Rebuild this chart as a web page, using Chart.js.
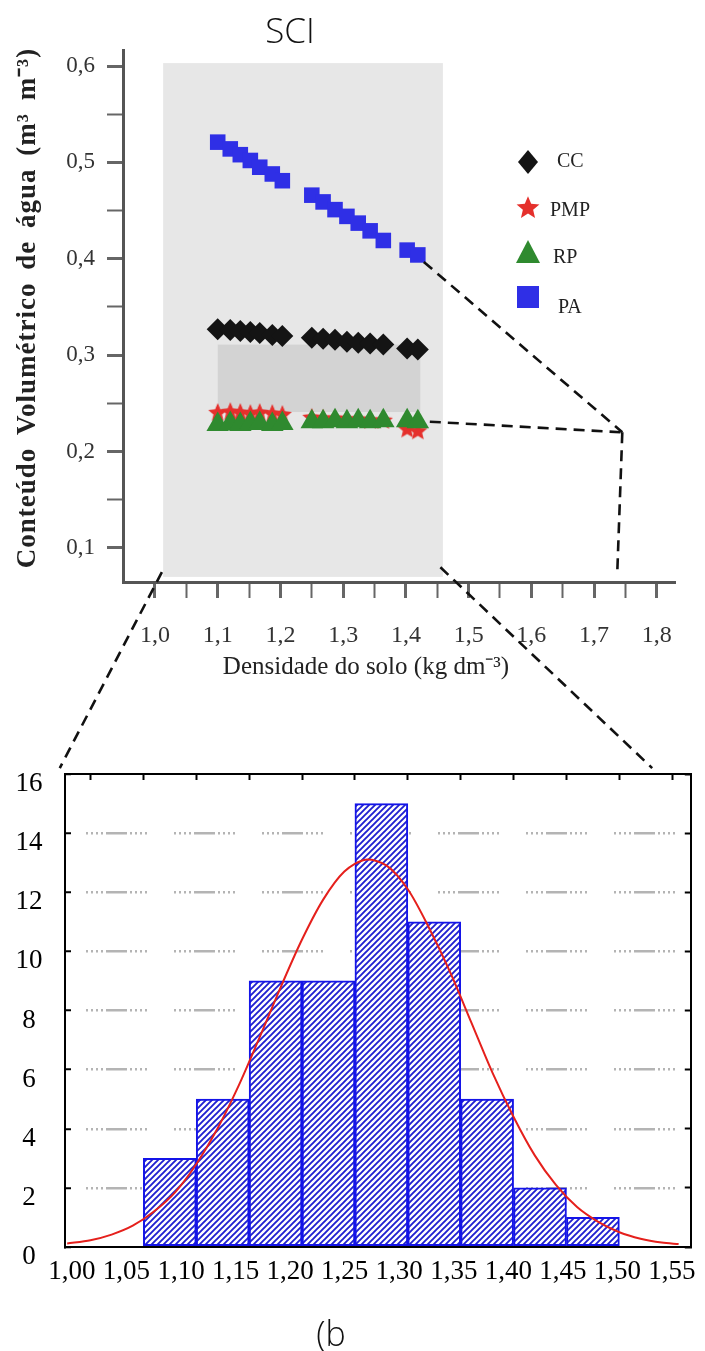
<!DOCTYPE html>
<html><head><meta charset="utf-8">
<script src="https://cdn.jsdelivr.net/npm/chart.js@4.4.0/dist/chart.umd.min.js"></script>
<style>
html,body{margin:0;padding:0;background:#fff;}
body{width:705px;height:1351px;position:relative;overflow:hidden;}
canvas{position:absolute;left:0;}
#c1{top:0;z-index:1;}
#c2{top:700px;z-index:1;}
#ov{top:0;z-index:2;pointer-events:none;}
.t{position:absolute;font-family:"Open Sans",sans-serif;font-weight:300;color:#111;text-align:center;z-index:3;}
</style></head><body>
<div class="t" style="left:0;width:580px;top:8px;font-size:35px;line-height:44px;">SCI</div>
<canvas id="c1" width="705" height="700"></canvas>
<canvas id="c2" width="705" height="620"></canvas>
<canvas id="ov" width="705" height="1351"></canvas>
<div class="t" style="left:231px;width:200px;top:1311px;font-size:34px;line-height:44px;">(b</div>
<script>
// ---------- top chart data ----------
const seriesNames = ['CC', 'PMP', 'RP', 'PA'];
const densX = [1.100,1.120,1.136,1.152,1.167,1.187,1.203,1.250,1.268,1.287,1.306,1.324,1.343,1.364,1.402,1.419];
const ccY  = [0.327,0.326,0.325,0.324,0.323,0.321,0.320,0.318,0.317,0.316,0.314,0.313,0.312,0.311,0.307,0.306];
const pmpY = [0.241,0.242,0.241,0.240,0.241,0.240,0.239,0.236,0.235,0.235,0.234,0.234,0.233,0.233,0.224,0.222];
const rpY  = [0.228,0.229,0.228,0.229,0.229,0.228,0.229,0.231,0.231,0.232,0.231,0.232,0.231,0.232,0.232,0.231];
const paY  = [0.521,0.514,0.508,0.502,0.495,0.488,0.481,0.466,0.459,0.451,0.444,0.437,0.429,0.419,0.409,0.404];
const yTicksTop  = [0.1,0.15,0.2,0.25,0.3,0.35,0.4,0.45,0.5,0.55,0.6];
const yLabelsTop = ['0,1','','0,2','','0,3','','0,4','','0,5','','0,6'];
const xTicksTop  = [1.0,1.05,1.1,1.15,1.2,1.25,1.3,1.35,1.4,1.45,1.5,1.55,1.6,1.65,1.7,1.75,1.8];
const xLabelsTop = ['1,0','','1,1','','1,2','','1,3','','1,4','','1,5','','1,6','','1,7','','1,8'];
const shadeX = [1.013, 1.459];   // light grey zoom window
const shadeY = [0.070, 0.603];
const bandX  = [1.100, 1.423];   // darker band between CC and PMP
const bandY  = [0.241, 0.311];
const hubPoint = [1.745, 0.220]; // dashed connector junction
const hubFoot  = [1.737, 0.075];
const yTitleTop = 'Conteúdo Volumétrico de água (m³ m⁻³)';
const xTitleTop = 'Densidade do solo (kg dm⁻³)';

// ---------- histogram data ----------
const binCenters = [1.075,1.125,1.175,1.225,1.275,1.325,1.375,1.425,1.475];
const binCounts  = [3,5,9,9,15,11,5,2,1];
const curveX = [0.978,1.00,1.02,1.04,1.06,1.08,1.10,1.12,1.14,1.16,1.18,1.20,1.22,1.24,1.26,1.28,1.30,1.32,1.34,1.36,1.38,1.40,1.42,1.44,1.46,1.48,1.50,1.52,1.54,1.556];
const curveY = [0.12,0.23,0.42,0.72,1.2,1.85,2.8,4.0,5.45,7.1,8.8,10.4,11.75,12.7,13.1,12.9,12.1,10.8,9.3,7.6,5.9,4.4,3.1,2.1,1.35,0.85,0.5,0.28,0.15,0.1];
const histYTicks  = [0,2,4,6,8,10,12,14,16];
const histXTicks  = [1.00,1.05,1.10,1.15,1.20,1.25,1.30,1.35,1.40,1.45,1.50,1.55];
const histXLabels = ['1,00','1,05','1,10','1,15','1,20','1,25','1,30','1,35','1,40','1,45','1,50','1,55'];
const connectEnds = [[0.971, 16.2], [1.531, 16.2]];

const SERIF = "'Liberation Serif','Times New Roman',serif";
const COLORS = {CC:'#141414', PMP:'#e5302c', RP:'#2f8a2f', PA:'#2f2fe6'};

function starImg(size, color) {
  const c = document.createElement('canvas'); c.width = c.height = size;
  const g = c.getContext('2d'); const R = size / 2, r = R * 0.45;
  g.beginPath();
  for (let i = 0; i < 10; i++) {
    const a = -Math.PI / 2 + i * Math.PI / 5, rr = i % 2 ? r : R;
    g.lineTo(R + rr * Math.cos(a), R + rr * Math.sin(a) + R * 0.1);
  }
  g.closePath(); g.fillStyle = color; g.fill();
  return c;
}
const starPlot = starImg(20, COLORS.PMP);
const starLeg = starImg(24, COLORS.PMP);

const pts = ys => densX.map((x, i) => ({x: x, y: ys[i]}));

const shadePlugin = {
  id: 'shade',
  beforeDatasetsDraw(chart) {
    const {ctx, scales: {x, y}} = chart;
    ctx.save();
    ctx.fillStyle = '#e7e7e7';
    ctx.fillRect(x.getPixelForValue(shadeX[0]), y.getPixelForValue(shadeY[1]),
      x.getPixelForValue(shadeX[1]) - x.getPixelForValue(shadeX[0]),
      y.getPixelForValue(shadeY[0]) - y.getPixelForValue(shadeY[1]));
    ctx.fillStyle = '#d3d3d3';
    ctx.fillRect(x.getPixelForValue(bandX[0]), y.getPixelForValue(bandY[1]),
      x.getPixelForValue(bandX[1]) - x.getPixelForValue(bandX[0]),
      y.getPixelForValue(bandY[0]) - y.getPixelForValue(bandY[1]));
    ctx.restore();
  }
};

const legendPlugin = {
  id: 'customLegend',
  afterDatasetsDraw(chart) {
    const ctx = chart.ctx;
    const mx = 528, tx = [557, 550, 553, 558], my = [162, 207, 253, 297], ty = [162, 211, 258, 308];
    ctx.save();
    seriesNames.forEach((name, i) => {
      const cy = my[i];
      ctx.fillStyle = COLORS[name];
      ctx.beginPath();
      if (name === 'CC') { ctx.moveTo(mx, cy - 12); ctx.lineTo(mx + 10, cy); ctx.lineTo(mx, cy + 12); ctx.lineTo(mx - 10, cy); ctx.closePath(); ctx.fill(); }
      else if (name === 'PMP') { ctx.drawImage(starLeg, mx - 12, cy - 12); }
      else if (name === 'RP') { ctx.moveTo(mx, cy - 13); ctx.lineTo(mx + 12, cy + 10); ctx.lineTo(mx - 12, cy + 10); ctx.closePath(); ctx.fill(); }
      else { ctx.fillRect(mx - 11, cy - 11, 22, 22); }
      ctx.fillStyle = '#222';
      ctx.font = '20px ' + SERIF;
      ctx.textAlign = 'left'; ctx.textBaseline = 'middle';
      ctx.fillText(name, tx[i], ty[i]);
    });
    ctx.restore();
  }
};

const titlesPlugin = {
  id: 'axisTitles',
  afterDraw(chart) {
    const ctx = chart.ctx;
    ctx.save();
    ctx.fillStyle = '#222';
    ctx.font = '25px ' + SERIF;
    ctx.textAlign = 'center'; ctx.textBaseline = 'middle';
    ctx.fillText(xTitleTop, 366, 667);
    ctx.translate(28, 308);
    ctx.rotate(-Math.PI / 2);
    ctx.font = 'bold 27px ' + SERIF;
    try { ctx.letterSpacing = '1px'; ctx.wordSpacing = '5px'; } catch (e) {}
    ctx.fillText(yTitleTop, 0, 0);
    ctx.restore();
  }
};

const ch1 = new Chart(document.getElementById('c1'), {
  type: 'scatter',
  data: {
    datasets: [
      {label: 'CC', data: pts(ccY), pointStyle: 'rectRot', pointRadius: 11, backgroundColor: COLORS.CC, borderColor: COLORS.CC, borderWidth: 0, order: 3},
      {label: 'PMP', data: pts(pmpY), pointStyle: starPlot, pointRadius: 9, backgroundColor: COLORS.PMP, borderColor: COLORS.PMP, borderWidth: 0, order: 2},
      {label: 'RP', data: pts(rpY), pointStyle: 'triangle', pointRadius: 13, backgroundColor: COLORS.RP, borderColor: COLORS.RP, borderWidth: 0, order: 1},
      {label: 'PA', data: pts(paY), pointStyle: 'rect', pointRadius: 11, backgroundColor: COLORS.PA, borderColor: COLORS.PA, borderWidth: 0, order: 4}
    ]
  },
  options: {
    responsive: false, animation: false, events: [],
    layout: {padding: {left: 0, top: 50, right: 30, bottom: 18}},
    plugins: {legend: {display: false}, tooltip: {enabled: false}},
    scales: {
      x: {
        type: 'linear', min: 0.949, max: 1.829,
        afterFit: s => { s.height = 100; },
        afterBuildTicks: s => { s.ticks = xTicksTop.map(v => ({value: v})); },
        ticks: {callback: (v, i) => xLabelsTop[i], font: {family: SERIF, size: 24}, color: '#333', padding: 23, autoSkip: false, maxRotation: 0, minRotation: 0},
        grid: {drawOnChartArea: false, tickLength: 16, tickColor: '#666', tickWidth: c => (xLabelsTop[c.index] ? 3 : 2)},
        border: {color: '#555', width: 3}
      },
      y: {
        type: 'linear', min: 0.0647, max: 0.6166,
        afterFit: s => { s.width = 123; },
        afterBuildTicks: s => { s.ticks = yTicksTop.map(v => ({value: v})); },
        ticks: {callback: (v, i) => yLabelsTop[i], font: {family: SERIF, size: 23}, color: '#333', padding: 12, autoSkip: false},
        grid: {drawOnChartArea: false, tickLength: 16, tickColor: '#666', tickWidth: c => (yLabelsTop[c.index] ? 3 : 2)},
        border: {color: '#555', width: 3}
      }
    }
  },
  plugins: [shadePlugin, legendPlugin, titlesPlugin]
});

// ---------- histogram ----------
function hatch() {
  const c = document.createElement('canvas'); c.width = 6; c.height = 6;
  const g = c.getContext('2d');
  g.fillStyle = '#fff'; g.fillRect(0, 0, 6, 6);
  g.strokeStyle = '#2020d0'; g.lineWidth = 1.9; g.lineCap = 'square';
  g.beginPath();
  g.moveTo(-1, 7); g.lineTo(7, -1);
  g.moveTo(-1, 1); g.lineTo(1, -1);
  g.moveTo(5, 7); g.lineTo(7, 5);
  g.stroke();
  return g.createPattern(c, 'repeat');
}

const ch2 = new Chart(document.getElementById('c2'), {
  type: 'bar',
  data: {
    datasets: [
      {type: 'line', data: curveX.map((x, i) => ({x: x, y: curveY[i]})), xAxisID: 'x', yAxisID: 'y',
       borderColor: '#e5201c', borderWidth: 2, pointRadius: 0, tension: 0.3, fill: false, order: 0},
      {type: 'bar', data: binCenters.map((x, i) => ({x: x, y: binCounts[i]})), xAxisID: 'x', yAxisID: 'y',
       backgroundColor: hatch(), borderColor: '#1414e8', borderWidth: 2, borderSkipped: false,
       barPercentage: 1, categoryPercentage: 1, order: 1}
    ]
  },
  options: {
    responsive: false, animation: false, events: [],
    layout: {padding: {left: 0, top: 74, right: 9, bottom: 23}},
    plugins: {legend: {display: false}, tooltip: {enabled: false}},
    scales: {
      x: {
        type: 'linear', position: 'top', min: 0.97594, max: 1.5675, offset: false,
        afterFit: s => { s.height = 0; },
        afterBuildTicks: s => { s.ticks = histXTicks.map(v => ({value: v})); },
        ticks: {display: false},
        grid: {drawOnChartArea: false, tickLength: -6, tickColor: '#000', tickWidth: 2, offset: false},
        border: {color: '#000', width: 2}
      },
      xl: {
        type: 'linear', position: 'bottom', min: 0.99364, max: 1.56727, offset: false,
        afterFit: s => { s.height = 50; },
        afterBuildTicks: s => { s.ticks = histXTicks.map(v => ({value: v})); },
        ticks: {callback: (v, i) => histXLabels[i], font: {family: SERIF, size: 27}, color: '#000', padding: 9, autoSkip: false, maxRotation: 0, minRotation: 0},
        grid: {display: false, drawTicks: false},
        border: {color: '#000', width: 2}
      },
      y: {
        type: 'linear', position: 'left', min: 0, max: 16,
        afterFit: s => { s.width = 65; },
        afterBuildTicks: s => { s.ticks = histYTicks.map(v => ({value: v})); },
        ticks: {font: {family: SERIF, size: 27}, color: '#000', crossAlign: 'center', padding: 28.5, labelOffset: 10, autoSkip: false},
        grid: {color: c => (c.tick && (c.tick.value === 0 || c.tick.value === 16)) ? 'rgba(0,0,0,0)' : '#b4b4b4',
               lineWidth: 2.5, tickLength: -6, tickColor: '#000', tickWidth: 2},
        border: {color: '#000', width: 2, dash: [2,3,2,3,2,3,2,3,21,3,2,3,2,3,2,3,2,27], dashOffset: 68}
      },
      y2: {
        type: 'linear', position: 'right', min: 0, max: 16,
        afterFit: s => { s.width = 0; },
        afterBuildTicks: s => { s.ticks = histYTicks.map(v => ({value: v})); },
        ticks: {display: false},
        grid: {drawOnChartArea: false, tickLength: -6, tickColor: '#000', tickWidth: 2},
        border: {color: '#000', width: 2}
      }
    }
  }
});

// ---------- dashed connectors ----------
(function () {
  const sx = ch1.scales.x, sy = ch1.scales.y, hx = ch2.scales.x, hy = ch2.scales.y;
  const top2 = 700;
  const P1 = (v, w) => [sx.getPixelForValue(v), sy.getPixelForValue(w)];
  const P2 = (v, w) => [hx.getPixelForValue(v), hy.getPixelForValue(w) + top2];
  const n = densX.length - 1;
  const paEnd = P1(densX[n], paY[n]); paEnd[0] += 6; paEnd[1] += 7;
  const rpEnd = P1(densX[n], rpY[n]); rpEnd[0] += 12;
  const hub = P1(hubPoint[0], hubPoint[1]);
  const segs = [
    [paEnd, hub],
    [hub, P1(hubFoot[0], hubFoot[1])],
    [rpEnd, hub],
    [P1(shadeX[0] - 0.002, 0.075), P2(connectEnds[0][0], connectEnds[0][1])],
    [P1(shadeX[1] - 0.004, 0.080), P2(connectEnds[1][0], connectEnds[1][1])]
  ];
  const g = document.getElementById('ov').getContext('2d');
  g.strokeStyle = '#111'; g.lineWidth = 2.6; g.setLineDash([11, 7]);
  segs.forEach(([a, b]) => { g.beginPath(); g.moveTo(a[0], a[1]); g.lineTo(b[0], b[1]); g.stroke(); });
})();
</script>
</body></html>
